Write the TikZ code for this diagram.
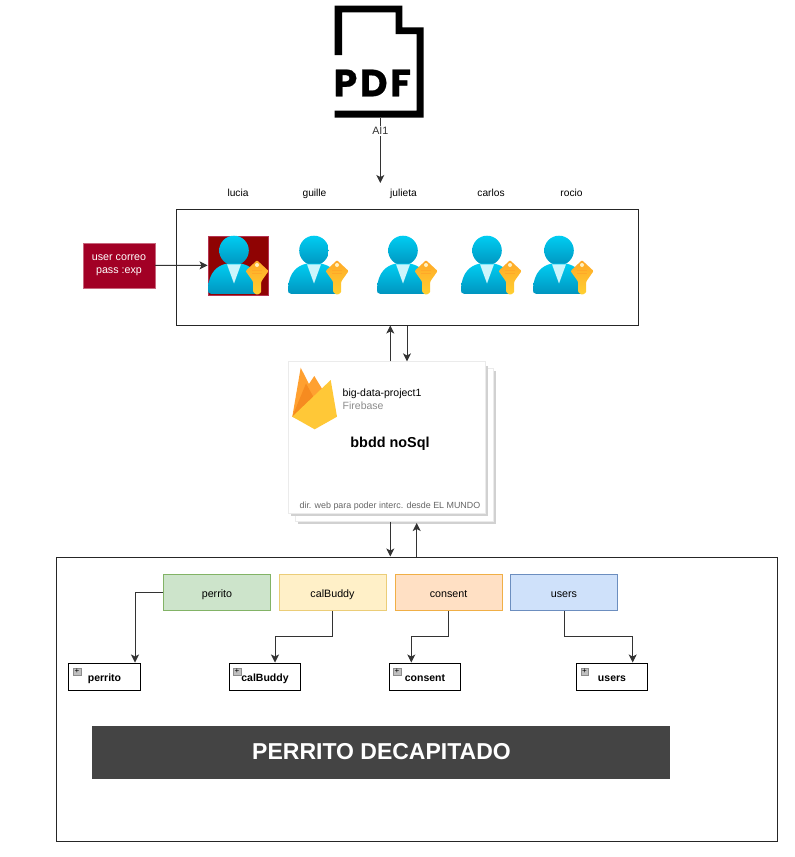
\documentclass[tikz,border=0pt]{standalone}
\usepackage{fontspec}
\setmainfont{Liberation Sans}
\newfontfamily\pdffont[FakeBold=0.6]{Poppins}
\usetikzlibrary{arrows.meta,calc,positioning}
\definecolor{userblue}{HTML}{00CDF2}
\definecolor{userdark}{HTML}{0095BF}
\definecolor{keygold}{HTML}{FFD030}
\definecolor{keydark}{HTML}{FFA828}
\definecolor{redbox}{HTML}{A20025}
\definecolor{redback}{HTML}{8F0303}
\definecolor{bannergray}{HTML}{444444}
\definecolor{fbamber}{HTML}{FFA030}
\definecolor{fbdeep}{HTML}{F68B20}
\definecolor{fbgold}{HTML}{FFC837}
\tikzset{
	flowline/.style={-{Stealth[length=8pt,width=8pt,inset=2pt]}, line width=1pt, color=black!80},
	namelabel/.style={font=\fontsize{10.2}{12}\selectfont, inner sep=0pt, anchor=base},
	bucket/.style={draw, line width=1pt, minimum width=107pt, minimum height=36pt, text height=9.5pt, text depth=0.5pt, inner sep=0pt, font=\fontsize{10.7}{12}\selectfont},
	dbtable/.style={draw=black, line width=1pt, minimum width=71.5pt, minimum height=27pt, text height=10pt, text depth=0pt, font=\bfseries\fontsize{10.5}{13}\selectfont, inner sep=0pt},
	plusbox/.style={fill=black!25, draw=black!45, line width=0.4pt, minimum size=7.5pt, inner sep=0pt, font=\fontsize{8}{8}\selectfont},
	card/.style={fill=white, draw=black!8, line width=0.6pt}
}
% user with key, origin at the middle of the head level with the left of the body
\def\usericon(#1,#2){
	\begin{scope}[shift={(#1,#2)}]
		\path[top color=userblue, bottom color=userdark] (26,0) circle (14.8);
		\path[top color=userblue, bottom color=userdark] (0,38) .. controls (1,22) and (9,15) .. (19,13) -- (33,13) .. controls (42,15) and (48,20) .. (50,28) -- (50,43.3) -- (3,43.3) .. controls (0.5,43.3) and (0,42) .. (0,38) -- cycle;
		\fill[white!80!userblue] (19,13.8) -- (33,13.8) -- (26,33) -- cycle;
		\path[top color=keydark, bottom color=keygold, rounded corners=1pt] (49,9.7) -- (60.6,20.5) -- (53.2,31) -- (53.2,42) -- (49,44.5) -- (45,41.5) -- (45,31) -- (37.6,20.5) -- cycle;
		\fill[white!70!keygold] (49,14.5) circle (2);
		\draw[keydark, line width=0.5pt] (44,20) -- (54,20) (44,22.3) -- (54,22.3);
	\end{scope}
}
\begin{document}
\begin{tikzpicture}[x=1pt,y=-1pt]
	\useasboundingbox (0,0) rectangle (795,857);

	%%%%% PDF %%%%%
	\fill[black] (334.7,55) -- (334.7,5.7) -- (402.3,5.7) -- (402.3,27.3) -- (423.7,27.3) -- (423.7,117.7) -- (334.7,117.7) -- (334.7,110.7) -- (416.7,110.7) -- (416.7,34) -- (395.7,34) -- (395.7,12.3) -- (342,12.3) -- (342,55) -- cycle;
	\node[inner sep=0pt] (pdfname) at (372.3,83) {\pdffont\bfseries\fontsize{38}{38}\selectfont\addfontfeature{LetterSpace=7}PDF};
	\coordinate (pdfbottom) at (380.3,118);
	\coordinate (usertop) at (380.3,183);
	\draw[flowline] (pdfbottom) -- node[fill=white, inner sep=1.5pt, font=\fontsize{10.7}{12}\selectfont, pos=0.2] (ailabel) {AI1} (usertop);

	%%%%% USERS %%%%%
	\node[namelabel] (lucianame) at (238,196) {lucia};
	\node[namelabel] (guillename) at (314.5,196) {guille};
	\node[namelabel] (julietaname) at (403.5,196) {julieta};
	\node[namelabel] (carlosname) at (491,196) {carlos};
	\node[namelabel] (rocioname) at (571.5,196) {rocio};

	\node[draw=black!85, line width=1pt, minimum width=462pt, minimum height=116pt, inner sep=0pt] (usersbox) at (407,267) {};
	\node[fill=redback, draw=redbox!80, line width=0.3pt, minimum width=60pt, minimum height=58.7pt, inner sep=0pt] (luciabox) at (237.7,265.3) {};
	\usericon(208,250.5)
	\usericon(288,250.5)
	\usericon(377,250.5)
	\usericon(461,250.5)
	\usericon(533,250.5)

	\node[fill=redbox, draw=redbox!60, line width=0.3pt, text=white, minimum width=72pt, minimum height=45pt, align=center, inner sep=0pt, font=\fontsize{10.7}{13}\selectfont] (correo) at (119,265.5) {user correo\\pass :exp};
	\draw[flowline] (correo) -- (luciabox);

	%%%%% FIREBASE %%%%%
	\fill[black!18] (298,371) rectangle (496,524);
	\draw[card] (295.7,368.7) rectangle (493,521);
	\fill[black!18] (291,366) rectangle (488,516);
	\node[card, minimum width=197.4pt, minimum height=151.6pt, inner sep=0pt] (fbcard) at (387,437.5) {};
	\fill[fbamber] (292.3,416.7) -- (300.7,367.7) -- (314,394) -- (314,425) -- cycle;
	\fill[fbamber] (305,390) -- (314.3,376) -- (324,392) -- (310,405) -- cycle;
	\fill[fbdeep] (292.3,416.7) -- (306,383.5) -- (314,398) -- cycle;
	\fill[fbgold] (292.3,416.7) -- (330.7,380) -- (337,416.7) -- (314.7,429.3) -- cycle;
	\node[inner sep=0pt, font=\fontsize{10.5}{12}\selectfont, anchor=base west] (fbproject) at (342.5,396) {big-data-project1};
	\node[inner sep=0pt, font=\fontsize{10.5}{12}\selectfont, text=black!45, anchor=base west] (fbname) at (342.5,409) {Firebase};
	\node[inner sep=0pt, font=\bfseries\fontsize{14.4}{16}\selectfont, anchor=base] (fbtitle) at (390,447.5) {bbdd noSql};
	\node[inner sep=0pt, font=\fontsize{8.9}{10}\selectfont, text=black!60, anchor=base east] (fburl) at (480.5,508) {dir. web para poder interc. desde EL MUNDO};
	\coordinate (fbup) at (390.3,0);
	\coordinate (fbdown) at (407,0);
	\draw[flowline] (fbcard.north -| fbup) -- (usersbox.south -| fbup);
	\draw[flowline] (usersbox.south -| fbdown) -- (fbcard.north -| fbdown);

	%%%%% BOTTOM %%%%%
	\node[draw=black!85, line width=1pt, minimum width=721pt, minimum height=284pt, inner sep=0pt] (dbbox) at (416.5,699) {};
	\coordinate (dbdown) at (390.3,521.7);
	\coordinate (dbup) at (416.7,523);
	\draw[flowline] (dbdown) -- (dbbox.north -| dbdown);
	\draw[flowline] (dbbox.north -| dbup) -- (dbup);

	\node[bucket, fill={rgb,255:red,205;green,228;blue,203}, draw={rgb,255:red,130;green,179;blue,102}] (perritobucket) at (217,592.5) {perrito};
	\node[bucket, fill={rgb,255:red,255;green,240;blue,200}, draw={rgb,255:red,235;green,205;blue,120}] (calbucket) at (332.5,592.5) {calBuddy};
	\node[bucket, fill={rgb,255:red,255;green,224;blue,196}, draw={rgb,255:red,240;green,175;blue,70}] (consentbucket) at (448.5,592.5) {consent};
	\node[bucket, fill={rgb,255:red,207;green,225;blue,250}, draw={rgb,255:red,108;green,142;blue,191}] (usersbucket) at (564,592.5) {users};

	\node[dbtable] (perritotable) at (104.5,676.5) {perrito};
	\node[dbtable] (caltable) at (265,676.5) {calBuddy};
	\node[dbtable] (consenttable) at (425,676.5) {consent};
	\node[dbtable] (userstable) at (612,676.5) {users};
	\node[plusbox] (plusa) at (77,671.5) {+};
	\node[plusbox] (plusb) at (237,671.5) {+};
	\node[plusbox] (plusc) at (397,671.5) {+};
	\node[plusbox] (plusd) at (584.5,671.5) {+};

	\draw[flowline] (perritobucket.west) -| ($(perritotable.north)+(30.5,0)$);
	\draw[flowline] (calbucket.south) |- (275,636.7) -- ($(caltable.north)+(10,0)$);
	\draw[flowline] (consentbucket.south) |- (411.3,636.7) -- ($(consenttable.north)+(-13.7,0)$);
	\draw[flowline] (usersbucket.south) |- (632.7,636.7) -- ($(userstable.north)+(20.7,0)$);

	\node[fill=bannergray, minimum width=578pt, minimum height=53pt, inner sep=0pt] (banner) at (381,752.5) {};
	\node[text=white, inner sep=0pt, font=\bfseries\fontsize{23}{26}\selectfont] (bannertext) at (381.5,751.5) {PERRITO DECAPITADO};
\end{tikzpicture}
\end{document}
